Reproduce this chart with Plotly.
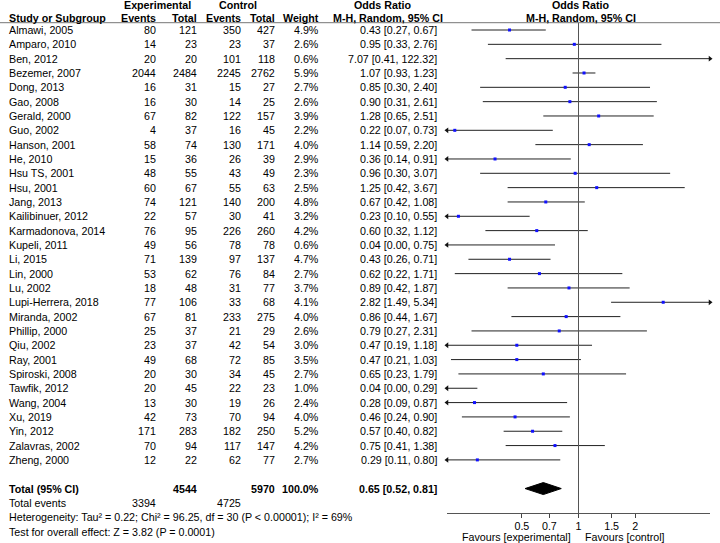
import math
import plotly.graph_objects as go

# ---------------- data ----------------
studies = ["Almawi, 2005", "Amparo, 2010", "Ben, 2012", "Bezemer, 2007", "Dong, 2013",
           "Gao, 2008", "Gerald, 2000", "Guo, 2002", "Hanson, 2001", "He, 2010",
           "Hsu TS, 2001", "Hsu, 2001", "Jang, 2013", "Kailibinuer, 2012", "Karmadonova, 2014",
           "Kupeli, 2011", "Li, 2015", "Lin, 2000", "Lu, 2002", "Lupi-Herrera, 2018",
           "Miranda, 2002", "Phillip, 2000", "Qiu, 2002", "Ray, 2001", "Spiroski, 2008",
           "Tawfik, 2012", "Wang, 2004", "Xu, 2019", "Yin, 2012", "Zalavras, 2002",
           "Zheng, 2000"]
exp_events = [80, 14, 20, 2044, 16, 16, 67, 4, 58, 15, 48, 60, 74, 22, 76, 49, 71, 53, 18, 77,
              67, 25, 23, 49, 20, 20, 13, 42, 171, 70, 12]
exp_total = [121, 23, 20, 2484, 31, 30, 82, 37, 74, 36, 55, 67, 121, 57, 95, 56, 139, 62, 48, 106,
             81, 37, 37, 68, 30, 45, 30, 73, 283, 94, 22]
ctrl_events = [350, 23, 101, 2245, 15, 14, 122, 16, 130, 26, 43, 55, 140, 30, 226, 78, 97, 76, 31, 33,
               233, 21, 42, 72, 34, 22, 19, 70, 182, 117, 62]
ctrl_total = [427, 37, 118, 2762, 27, 25, 157, 45, 171, 39, 49, 63, 200, 41, 260, 78, 137, 84, 77, 68,
              275, 29, 54, 85, 45, 23, 26, 94, 250, 147, 77]
weight = [4.9, 2.6, 0.6, 5.9, 2.7, 2.6, 3.9, 2.2, 4.0, 2.9, 2.3, 2.5, 4.8, 3.2, 4.2, 0.6, 4.7, 2.7,
          3.7, 4.1, 4.0, 2.6, 3.0, 3.5, 2.7, 1.0, 2.4, 4.0, 5.2, 4.2, 2.7]
or_val = [0.43, 0.95, 7.07, 1.07, 0.85, 0.90, 1.28, 0.22, 1.14, 0.36, 0.96, 1.25, 0.67, 0.23, 0.60,
          0.04, 0.43, 0.62, 0.89, 2.82, 0.86, 0.79, 0.47, 0.47, 0.65, 0.04, 0.28, 0.46, 0.57, 0.75, 0.29]
ci_lo = [0.27, 0.33, 0.41, 0.93, 0.30, 0.31, 0.65, 0.07, 0.59, 0.14, 0.30, 0.42, 0.42, 0.10, 0.32,
         0.00, 0.26, 0.22, 0.42, 1.49, 0.44, 0.27, 0.19, 0.21, 0.23, 0.00, 0.09, 0.24, 0.40, 0.41, 0.11]
ci_hi = [0.67, 2.76, 122.32, 1.23, 2.40, 2.61, 2.51, 0.73, 2.20, 0.91, 3.07, 3.67, 1.08, 0.55, 1.12,
         0.75, 0.71, 1.71, 1.87, 5.34, 1.67, 2.31, 1.18, 1.03, 1.79, 0.29, 0.87, 0.90, 0.82, 1.38, 0.80]

total_exp_n, total_ctrl_n = 4544, 5970
total_exp_events, total_ctrl_events = 3394, 4725
total_weight = 100.0
total_or, total_lo, total_hi = 0.65, 0.52, 0.81
heterogeneity = "Heterogeneity: Tau² = 0.22; Chi² = 96.25, df = 30 (P < 0.00001); I² = 69%"
overall = "Test for overall effect: Z = 3.82 (P = 0.0001)"
tick_vals = [0.5, 0.7, 1, 1.5, 2]
tick_text = ["0.5", "0.7", "1", "1.5", "2"]
XMIN, XMAX = 0.2, 5.0

# ---------------- layout helpers ----------------
W, H = 720, 543
ROW_H = 14.33
ROW0 = 30.0
FONT = "Liberation Sans, Arial, sans-serif"
FS = 10.7


def py2row(py):
    return (py - ROW0) / ROW_H


n = len(studies)
rows = list(range(n))
total_row = n + 1

fig = go.Figure()

# CI lines (clipped to axis range) and arrows
lx, ly, la, ra = [], [], [], []
for r, lo, hi in zip(rows, ci_lo, ci_hi):
    a = max(lo, XMIN)
    b = min(hi, XMAX)
    lx += [a, b, None]
    ly += [r, r, None]
    if lo < XMIN:
        la.append(r)
    if hi > XMAX:
        ra.append(r)

fig.add_trace(go.Scatter(x=lx, y=ly, mode="lines", line=dict(color="#222222", width=1),
                         hoverinfo="skip"))
fig.add_trace(go.Scatter(x=[XMIN] * len(la), y=la, mode="markers", cliponaxis=False,
                         marker=dict(symbol="triangle-left", size=5, color="#111111", line=dict(width=0))))
fig.add_trace(go.Scatter(x=[XMAX] * len(ra), y=ra, mode="markers", cliponaxis=False,
                         marker=dict(symbol="triangle-right", size=5, color="#111111", line=dict(width=0))))

# line of no effect
fig.add_trace(go.Scatter(x=[1, 1], y=[py2row(22.7), py2row(513)], mode="lines",
                         line=dict(color="#555555", width=1), hoverinfo="skip"))

# point estimates
fig.add_trace(go.Scatter(x=or_val, y=rows, mode="markers",
                         marker=dict(symbol="square", size=3, color="#1010ff", line=dict(width=0))))

# pooled diamond
h = 6.0 / ROW_H
fig.add_trace(go.Scatter(x=[total_lo, total_or, total_hi, total_or, total_lo],
                         y=[total_row, total_row - h, total_row, total_row + h, total_row],
                         mode="lines", fill="toself", fillcolor="black",
                         line=dict(color="black", width=1)))

ann = []


def txt(s, px, row, anchor="left", bold=False):
    ann.append(dict(text=("<b>%s</b>" % s) if bold else s, x=px / W, xref="paper",
                    y=row, yref="y", xanchor=anchor, yanchor="middle", showarrow=False,
                    borderpad=0, font=dict(family=FONT, size=FS, color="black")))


# headers
r1, r2 = py2row(5), py2row(18)
txt("Experimental", 157, r1, "center", True)
txt("Control", 237.5, r1, "center", True)
txt("Odds Ratio", 382, r1, "center", True)
txt("Odds Ratio", 580, r1, "center", True)
txt("Study or Subgroup", 8, r2, "left", True)
txt("Events", 157, r2, "right", True)
txt("Total", 198, r2, "right", True)
txt("Events", 242, r2, "right", True)
txt("Total", 276, r2, "right", True)
txt("Weight", 320, r2, "right", True)
txt("M-H, Random, 95% CI", 388, r2, "center", True)
txt("M-H, Random, 95% CI", 581, r2, "center", True)

for i in rows:
    txt(studies[i], 8, i, "left")
    txt(str(exp_events[i]), 157, i, "right")
    txt(str(exp_total[i]), 198, i, "right")
    txt(str(ctrl_events[i]), 242, i, "right")
    txt(str(ctrl_total[i]), 276, i, "right")
    txt("%.1f%%" % weight[i], 320, i, "right")
    txt("%.2f [%.2f, %.2f]" % (or_val[i], ci_lo[i], ci_hi[i]), 438, i, "right")

txt("Total (95% CI)", 8, total_row, "left", True)
txt(str(total_exp_n), 198, total_row, "right", True)
txt(str(total_ctrl_n), 276, total_row, "right", True)
txt("%.1f%%" % total_weight, 320, total_row, "right", True)
txt("%.2f [%.2f, %.2f]" % (total_or, total_lo, total_hi), 438, total_row, "right", True)

txt("Total events", 8, total_row + 1, "left")
txt(str(total_exp_events), 157, total_row + 1, "right")
txt(str(total_ctrl_events), 242, total_row + 1, "right")
txt(heterogeneity, 8, total_row + 2, "left")
txt(overall, 8, total_row + 3, "left")

txt("Favours [experimental]", 572, py2row(537), "right")
txt("Favours [control]", 584, py2row(537), "left")

fig.update_layout(
    width=W, height=H, margin=dict(l=0, r=0, t=0, b=0),
    paper_bgcolor="white", plot_bgcolor="white", showlegend=False,
    annotations=ann,
    shapes=[dict(type="line", xref="paper", yref="y", x0=0, x1=1,
                 y0=py2row(22.7), y1=py2row(22.7), line=dict(color="#777777", width=1))],
    xaxis=dict(type="log", range=[math.log10(XMIN), math.log10(XMAX)],
               domain=[447 / W, 710 / W], anchor="free", position=1 - 512.5 / H,
               showline=True, linecolor="#555555", linewidth=1,
               ticks="outside", ticklen=4, tickcolor="#444444",
               tickvals=tick_vals, ticktext=tick_text, showgrid=False, zeroline=False,
               tickfont=dict(family=FONT, size=FS, color="black")),
    yaxis=dict(range=[py2row(H), py2row(0)], domain=[0, 1], visible=False,
               showgrid=False, zeroline=False),
    hovermode=False,
)

fig.write_html("out.html", config={"displayModeBar": False},
               post_script="document.body.style.margin='0';document.body.style.overflow='hidden';")
